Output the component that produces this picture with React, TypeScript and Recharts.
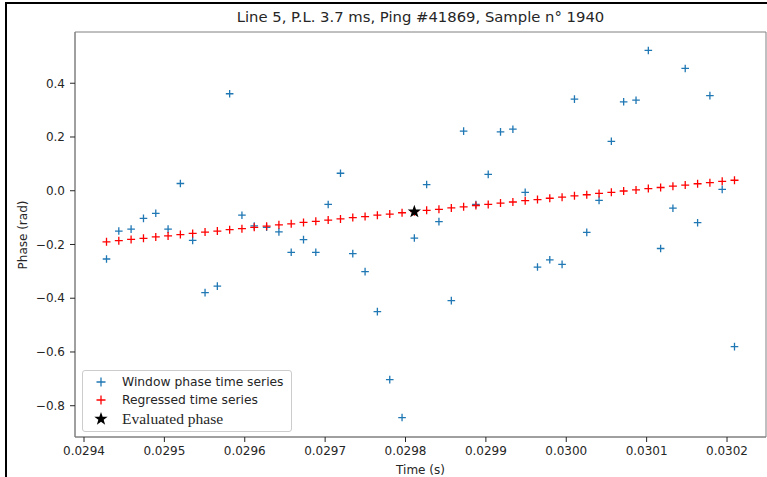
import React from "react";
import {
  ScatterChart, Scatter, XAxis, YAxis, ReferenceArea,
} from "recharts";

// sample times (s)
const times = [
  0.0294280, 0.0294433, 0.0294586, 0.0294740, 0.0294893, 0.0295046, 0.0295199, 0.0295352,
  0.0295506, 0.0295659, 0.0295812, 0.0295965, 0.0296118, 0.0296272, 0.0296425, 0.0296578,
  0.0296731, 0.0296884, 0.0297038, 0.0297191, 0.0297344, 0.0297497, 0.0297650, 0.0297804,
  0.0297957, 0.0298110, 0.0298263, 0.0298416, 0.0298570, 0.0298723, 0.0298876, 0.0299029,
  0.0299182, 0.0299336, 0.0299489, 0.0299642, 0.0299795, 0.0299948, 0.0300102, 0.0300255,
  0.0300408, 0.0300561, 0.0300714, 0.0300868, 0.0301021, 0.0301174, 0.0301327, 0.0301480,
  0.0301634, 0.0301787, 0.0301940, 0.0302093,
];

const windowPhase = [
  -0.254, -0.150, -0.143, -0.103, -0.084, -0.143, 0.027, -0.185,
  -0.379, -0.355, 0.361, -0.091, -0.131, -0.136, -0.153, -0.229,
  -0.182, -0.229, -0.051, 0.065, -0.234, -0.301, -0.450, -0.703,
  -0.844, -0.176, 0.023, -0.115, -0.409, 0.222, -0.051, 0.061,
  0.219, 0.229, -0.006, -0.284, -0.257, -0.274, 0.341, -0.155,
  -0.036, 0.184, 0.331, 0.337, 0.522, -0.215, -0.065, 0.455,
  -0.119, 0.354, 0.005, -0.580,
];

const regressedPhase = [
  -0.190, -0.186, -0.181, -0.177, -0.172, -0.168, -0.163, -0.159,
  -0.154, -0.150, -0.145, -0.141, -0.136, -0.132, -0.127, -0.123,
  -0.118, -0.114, -0.109, -0.105, -0.100, -0.096, -0.091, -0.087,
  -0.082, -0.078, -0.073, -0.069, -0.064, -0.060, -0.055, -0.051,
  -0.046, -0.042, -0.037, -0.033, -0.028, -0.024, -0.019, -0.015,
  -0.010, -0.006, -0.001, 0.003, 0.008, 0.012, 0.017, 0.021,
  0.026, 0.030, 0.035, 0.039,
];

const evalTime = [0.0298110];
const evalPhase = [-0.078];

const xTicks = [0.0294, 0.0295, 0.0296, 0.0297, 0.0298, 0.0299, 0.0300, 0.0301, 0.0302];
const yTicks = [-0.8, -0.6, -0.4, -0.2, 0.0, 0.2, 0.4];

const X_DOMAIN: [number, number] = [0.0293888, 0.0302485];
const Y_DOMAIN: [number, number] = [-0.9164, 0.5907];

const C = {
  blue: "#1f77b4",
  red: "#ff0000",
  spine: "#808080",
  text: "#262626",
  font: "'DejaVu Sans', sans-serif",
  serif: "'Liberation Serif', 'DejaVu Serif', serif",
};

const windowData = times.map((t, i) => ({ t, phase: windowPhase[i] }));
const regressedData = times.map((t, i) => ({ t, phase: regressedPhase[i] }));
const evalData = evalTime.map((t, i) => ({ t, phase: evalPhase[i] }));

const plus = (color: string, r: number) => (props: any) => {
  const { cx, cy } = props;
  return (
    <path
      d={`M${cx - r},${cy}H${cx + r}M${cx},${cy - r}V${cy + r}`}
      stroke={color} strokeWidth={1.3} fill="none"
    />
  );
};

function starPath(cx: number, cy: number, R: number, r: number) {
  let d = "";
  for (let k = 0; k < 10; k++) {
    const rad = k % 2 === 0 ? R : r;
    const a = -Math.PI / 2 + (k * Math.PI) / 5;
    d += `${k === 0 ? "M" : "L"}${cx + rad * Math.cos(a)},${cy + rad * Math.sin(a)}`;
  }
  return d + "Z";
}

const star = (props: any) => (
  <path d={starPath(props.cx, props.cy, 7, 2.8)} fill="#000" />
);

const fmtY = (v: number) => (v < 0 ? `\u2212${Math.abs(v).toFixed(1)}` : v.toFixed(1));

function LegendBox() {
  const row = (y: number, marker: React.ReactNode, label: string, serif = false) => (
    <div style={{ position: "absolute", left: 0, top: y - 10, height: 20, width: "100%", display: "flex", alignItems: "center" }}>
      <svg width={36} height={20} style={{ flex: "none" }}>{marker}</svg>
      <span style={{
        marginLeft: 3, fontFamily: serif ? C.serif : C.font,
        fontSize: serif ? 15.5 : 12.3, color: C.text, whiteSpace: "nowrap",
      }}>{label}</span>
    </div>
  );
  return (
    <div style={{
      position: "absolute", left: 82, top: 370, width: 208, height: 60,
      border: "1px solid #cccccc", borderRadius: 3, background: "rgba(255,255,255,0.8)",
    }}>
      {row(11, <path d="M13.5,10H22.5M18,5.5V14.5" stroke={C.blue} strokeWidth={1.3} />, "Window phase time series")}
      {row(29, <path d="M13.5,10H22.5M18,5.5V14.5" stroke={C.red} strokeWidth={1.3} />, "Regressed time series")}
      {row(48, <path d={starPath(18, 10, 7, 2.8)} fill="#000" />, "Evaluated phase", true)}
    </div>
  );
}

export default function App() {
  return (
    <div style={{ position: "absolute", left: 0, top: 0, width: 767, height: 477, background: "#fff", overflow: "hidden" }}>
      <div style={{
        position: "absolute", left: 5, top: 2, width: 762, height: 475,
        borderTop: "2px solid #000", borderLeft: "2px solid #000", boxSizing: "border-box",
      }} />
      <div style={{
        position: "absolute", left: 75, width: 691, top: 8, textAlign: "center",
        fontFamily: C.font, fontSize: 14.8, color: C.text, lineHeight: "18px",
      }}>
        Line 5, P.L. 3.7 ms, Ping #41869, Sample n° 1940
      </div>
      <div style={{ position: "absolute", left: 0, top: 0 }}>
        <ScatterChart width={767} height={477} margin={{ top: 32, right: 1, bottom: 0, left: 0 }}>
          <XAxis
            type="number" dataKey="t" domain={X_DOMAIN} ticks={xTicks} allowDataOverflow
            tickFormatter={(v: number) => v.toFixed(4)}
            height={40} tickSize={5} tickMargin={4}
            tick={{ fontFamily: C.font, fontSize: 12, fill: C.text }}
            axisLine={{ stroke: C.spine }} tickLine={{ stroke: C.text }}
            label={{ value: "Time (s)", position: "insideBottom", offset: 3, fontFamily: C.font, fontSize: 12, fill: C.text }}
          />
          <YAxis
            type="number" dataKey="phase" domain={Y_DOMAIN} ticks={yTicks} allowDataOverflow
            tickFormatter={fmtY}
            width={75} tickSize={5} tickMargin={5}
            tick={{ fontFamily: C.font, fontSize: 12, fill: C.text }}
            axisLine={{ stroke: C.spine }} tickLine={{ stroke: C.text }}
            label={{
              content: () => (
                <text x={23} y={235} transform="rotate(-90 23 235)" textAnchor="middle"
                  dominantBaseline="central" fontFamily={C.font} fontSize={12} fill={C.text}>
                  Phase (rad)
                </text>
              ),
            }}
          />
          <ReferenceArea
            x1={X_DOMAIN[0]} x2={X_DOMAIN[1]} y1={Y_DOMAIN[0]} y2={Y_DOMAIN[1]}
            fill="none" fillOpacity={0} stroke={C.spine} strokeOpacity={1} ifOverflow="visible"
          />
          <Scatter data={windowData} shape={plus(C.blue, 3.8)} isAnimationActive={false} />
          <Scatter data={regressedData} shape={plus(C.red, 4)} isAnimationActive={false} />
          <Scatter data={evalData} shape={star} isAnimationActive={false} />
        </ScatterChart>
      </div>
      <LegendBox />
    </div>
  );
}
